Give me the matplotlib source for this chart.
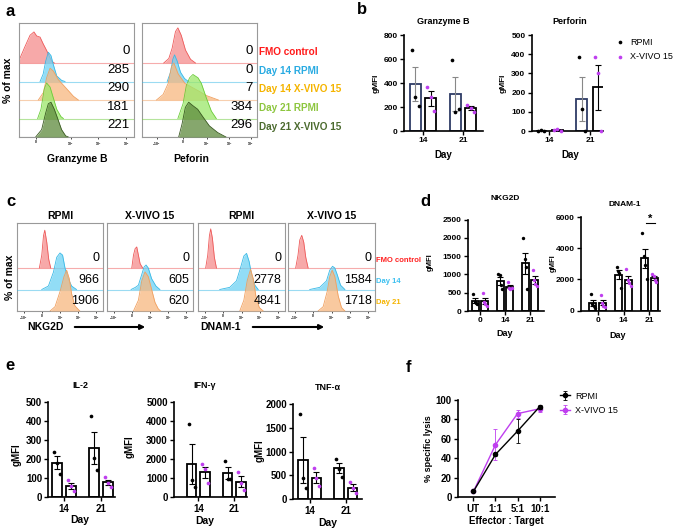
import numpy as np
import matplotlib
matplotlib.use("Agg")
import matplotlib.pyplot as plt

plt.rcParams["font.family"] = ["Liberation Sans", "DejaVu Sans"]
plt.rcParams["font.weight"] = "bold"
plt.rcParams["axes.labelweight"] = "bold"
plt.rcParams["mathtext.default"] = "regular"

W, H = 676, 530
VIOLET = "#BF3FEF"

# ---------------- a: histograms (x = channel 0-100, y = % of max) ----------------
a_names = ["FMO control", "Day 14 RPMI", "Day 14 X-VIVO 15", "Day 21 RPMI", "Day 21 X-VIVO 15"]
a_txt_col = ["#FF1A1A", "#29ABE2", "#F5B400", "#8DC63F", "#4C6B2F"]
a_fill = ["#F58C8C", "#6ED2F4", "#F7B77F", "#9BE86A", "#5E8A3C"]
a_edge = ["#EE5A5A", "#39B9E6", "#F0A060", "#6CCB3A", "#3A5A22"]

gzb_x = [[0, 5, 9.6, 13, 15.4, 18.3, 21, 24, 28.4, 30.7],
         [18.3, 21, 23.2, 25.5, 27.8, 29.9, 32.8, 37.1, 40],
         [16.8, 21.2, 24, 27, 29.9, 34.2, 38.6, 43, 47.3, 51.6],
         [16.2, 19.1, 22, 24, 27, 29.9, 32.8, 36.5, 38.6],
         [14.5, 19.7, 23.2, 25.5, 27.8, 30.7, 33.6, 37, 40.6, 42.9]]
gzb_y = [[7, 43, 75, 84, 73, 70, 52, 34, 5, 0],
         [0, 20, 55, 79, 70, 45, 15, 3, 0],
         [0, 20, 60, 86, 78, 55, 40, 25, 10, 0],
         [0, 25, 80, 96, 85, 55, 25, 5, 0],
         [0, 20, 65, 90, 94, 75, 50, 20, 3, 0]]
gzb_num = ["0", "285", "290", "181", "221"]

prf_x = [[18.9, 23.3, 26.2, 29.1, 31.2, 34.1, 37.8, 42.2, 46.5],
         [21.9, 24.8, 26.8, 28.3, 30.6, 33.5, 37, 40.4],
         [12.6, 18.4, 22.8, 25.6, 27.7, 31.5, 37.3, 43, 48.9, 56, 66.4],
         [31.2, 35.7, 38.6, 41.4, 44.3, 48.7, 51.6, 56, 60.3, 64.6],
         [31.9, 34.8, 37.7, 40.6, 44.1, 48.4, 52.8, 58.6, 65.8, 73]]
prf_y = [[0, 12, 40, 85, 95, 75, 35, 10, 0],
         [0, 25, 60, 72, 55, 25, 8, 0],
         [0, 15, 45, 90, 100, 70, 45, 35, 25, 12, 0],
         [0, 40, 90, 110, 119, 110, 95, 55, 20, 0],
         [0, 35, 80, 94, 85, 75, 55, 30, 12, 0]]
prf_num = ["0", "0", "7", "384", "296"]

# ---------------- c: histograms ----------------
c_names = ["FMO control", "Day 14", "Day 21"]
c_txt_col = ["#FF2020", "#3CC0F0", "#F5B400"]
c_fill = ["#F58C8C", "#6ED2F4", "#F7B77F"]
c_edge = ["#EE5A5A", "#39B9E6", "#F0A060"]
c_titles = ["RPMI", "X-VIVO 15", "RPMI", "X-VIVO 15"]

c_x = [
    [[26, 28.8, 30.8, 32.3, 34.6, 36.9, 39.2],
     [28.8, 36.5, 42.3, 46.2, 50, 53, 55.8, 59.6, 63.5, 69.2],
     [38.5, 44.2, 50, 54.6, 57.7, 60.8, 63.5, 67.3, 73]],
    [[28.8, 30.8, 32.7, 34.6, 36.5, 38.5, 41.5],
     [28, 33, 36.5, 40.4, 43, 45.4, 48, 51.9, 56.9, 61.5],
     [30.8, 36.5, 40.4, 44.2, 48, 51.9, 55.8, 59.6, 62.3]],
    [[8.8, 11.2, 13.1, 14.6, 16.5, 18.8, 21.2],
     [25, 36.5, 44.2, 48.8, 52.7, 55.8, 58.8, 61.5, 65.4, 69.2],
     [48, 52.7, 56.5, 60.4, 63.5, 66.5, 70.4, 75]],
    [[8.8, 11.5, 13.5, 15.8, 18.1, 20.4, 23.1],
     [25, 36.5, 44.2, 48, 51.2, 53.8, 56.5, 60.4, 65.4],
     [34.6, 40.4, 45, 48, 50.8, 53.8, 57.7, 61.5, 65.4]],
]
c_y = [
    [[0, 30, 75, 88, 60, 20, 0],
     [0, 8, 40, 75, 85, 80, 50, 25, 8, 0],
     [0, 10, 45, 80, 95, 75, 40, 12, 0]],
    [[0, 30, 45, 49, 30, 10, 0],
     [0, 5, 10, 35, 52, 57, 50, 25, 8, 0],
     [0, 25, 70, 91, 80, 50, 20, 5, 0]],
    [[0, 30, 75, 91, 70, 25, 0],
     [0, 5, 20, 50, 78, 84, 65, 35, 10, 0],
     [0, 25, 70, 97, 75, 35, 8, 0]],
    [[0, 30, 65, 76, 60, 25, 0],
     [0, 5, 20, 45, 54, 50, 35, 10, 0],
     [0, 10, 45, 80, 95, 80, 35, 8, 0]],
]
c_num = [["0", "966", "1906"], ["0", "605", "620"], ["0", "2778", "4841"], ["0", "1584", "1718"]]

# ---------------- b / d / e: per-donor gMFI ----------------
b_days = ["14", "21"]
gzb_rpmi = [[675, 285, 210], [595, 160, 180]]
gzb_xv = [[370, 280, 165], [215, 195, 160]]
prf_rpmi = [[0, 5, 0], [385, 115, 0]]
prf_xv = [[3, 8, 2], [385, 300, 0]]

d_days = ["0", "14", "21"]
nkg_rpmi = [[470, 240, 210, 200], [1010, 980, 700, 600], [2000, 1430, 1200, 590]]
nkg_xv = [[490, 240, 200, 150], [790, 640, 600, 620], [1130, 840, 750, 675]]
dnam_rpmi = [[1040, 430, 300, 190], [2810, 2550, 2420, 1470], [4990, 3480, 2940, 2030]]
dnam_xv = [[1030, 480, 300, 220], [2640, 1990, 1770, 1560], [2380, 2200, 1940, 1840]]

e_days = ["14", "21"]
il2_rpmi = [[239, 181, 120], [425, 204, 143]]
il2_xv = [[90, 59, 33], [104, 77, 52]]
ifn_rpmi = [[3830, 906, 523], [1900, 958, 941]]
ifn_xv = [[1725, 1463, 732], [1341, 732, 383]]
tnf_rpmi = [[1790, 454, 231], [839, 629, 475]]
tnf_xv = [[650, 440, 280], [370, 231, 126]]

# ---------------- f: killing ----------------
f_ratio = ["UT", "1:1", "5:1", "10:1"]
f_rpmi = [6, 44, 68, 93]
f_rpmi_err = [0.5, 2, 12, 2]
f_xv = [6, 54, 86, 91]
f_xv_err = [0.5, 16, 4, 3]

fig = plt.figure(figsize=(W / 100, H / 100), dpi=100)


def px_ax(x0, y0, x1, y1):
    return fig.add_axes([x0 / W, 1 - y1 / H, (x1 - x0) / W, (y1 - y0) / H])


def ftext(x, y, s, **kw):
    fig.text(x / W, 1 - y / H, s, **kw)


def hist_box(box, xs, ys, fills, edges, nums, top, num_dy, num_fs, ticks, tlabels):
    ax = px_ax(*box)
    n = len(xs)
    for i in range(n):
        base = n - 1 - i
        yy = base + np.asarray(ys[i]) / 100 * 2
        ax.axhline(base, color=edges[i], lw=0.8, alpha=0.5, zorder=1 + 2 * i)
        ax.fill_between(xs[i], base, yy, color=fills[i], alpha=0.75, lw=0, zorder=2 + 2 * i)
        ax.plot(xs[i], yy, color=edges[i], lw=0.6, zorder=2 + 2 * i)
        ax.text(96, base + num_dy, nums[i], ha="right", va="bottom", fontsize=num_fs,
                fontweight="normal", zorder=20)
    ax.set_xlim(0, 100)
    ax.set_ylim(0, top)
    ax.set_yticks([])
    ax.set_xticks(ticks)
    ax.set_xticklabels(tlabels)
    ax.tick_params(axis="x", length=1.5, width=0.5, labelsize=2.3, pad=1)
    for s in ax.spines.values():
        s.set_color("#999999")
        s.set_linewidth(0.8)
    return ax


def style(ax, fs):
    for s in ("top", "right"):
        ax.spines[s].set_visible(False)
    for s in ("left", "bottom"):
        ax.spines[s].set_linewidth(1.2)
    ax.tick_params(length=3, width=1, labelsize=fs, pad=1.5)


def bar_panel(box, r_pts, x_pts, ymax, ystep, xlim, labels, fs, width=0.27, off=0.19,
              r_edge="black", r_err="black", dot=7):
    ax = px_ax(*box)
    for i in range(len(labels)):
        for pts, dx, edge, errc, col in ((r_pts[i], -off, r_edge, r_err, "black"),
                                         (x_pts[i], off, "black", "black", VIOLET)):
            pts = np.asarray(pts, float)
            m = pts.mean()
            sem = pts.std(ddof=1) / np.sqrt(len(pts))
            ax.bar(i + dx, m, width, facecolor="white", edgecolor=edge, lw=1.3, zorder=2)
            ax.errorbar(i + dx, m, yerr=sem, fmt="none", ecolor=errc, elinewidth=0.8,
                        capsize=2, capthick=0.8, zorder=3)
            jit = np.linspace(-width * 0.3, width * 0.3, len(pts))
            ax.scatter(i + dx + jit, pts, s=dot, color=col, lw=0, zorder=4, clip_on=False)
    ax.set_xlim(*xlim)
    ax.set_ylim(0, ymax)
    ax.set_yticks(np.arange(0, ymax + 1, ystep))
    ax.set_xticks(range(len(labels)))
    ax.set_xticklabels(labels)
    style(ax, fs)
    return ax


# ===== panel a =====
ftext(6, 12, "a", fontsize=12, va="center")
hist_box((19, 23, 134, 137), gzb_x, gzb_y, a_fill, a_edge, gzb_num, 114 / 18.5, 0.3, 9.5,
         [14.8, 45, 69, 93], ["0", "$10^3$", "$10^4$", "$10^5$"])
hist_box((142, 23, 257, 137), prf_x, prf_y, a_fill, a_edge, prf_num, 114 / 18.5, 0.3, 9.5,
         [12.8, 35.4, 56.2, 75.9, 94.5], ["$-10^3$", "0", "$10^3$", "$10^4$", "$10^5$"])
for i, (nm, col) in enumerate(zip(a_names, a_txt_col)):
    ftext(259, 52 + i * 18.7, nm, color=col, fontsize=7.2, va="center")
ftext(8, 80, "% of max", rotation=90, fontsize=7.5, ha="center", va="center")
ftext(77, 159, "Granzyme B", fontsize=7.5, ha="center", va="center")
ftext(191, 159, "Peforin", fontsize=7.5, ha="center", va="center")

# ===== panel b =====
ftext(357, 9, "b", fontsize=12, va="center")
ax = bar_panel((404, 35, 483, 131), gzb_rpmi, gzb_xv, 800, 200, (-0.475, 1.5), b_days, 6,
               r_edge="#2E3B66", r_err="#888888")
ftext(443, 22, "Granzyme B", fontsize=6.5, ha="center", va="center")
ftext(376, 83, "gMFI", fontsize=6, rotation=90, ha="center", va="center")
ftext(443, 155, "Day", fontsize=7, ha="center", va="center")
ax = bar_panel((531.7, 35, 603, 131), prf_rpmi, prf_xv, 500, 100, (-0.43, 1.32), b_days, 6,
               off=0.2, r_edge="#2E3B66", r_err="#888888")
ftext(570, 22, "Perforin", fontsize=6.5, ha="center", va="center")
ftext(503, 83, "gMFI", fontsize=6, rotation=90, ha="center", va="center")
ftext(570, 155, "Day", fontsize=7, ha="center", va="center")
h1 = ax.scatter([], [], s=7, color="black", lw=0)
h2 = ax.scatter([], [], s=7, color=VIOLET, lw=0)
ax.legend([h1, h2], ["RPMI", "X-VIVO 15"], loc="upper left", frameon=False,
          bbox_to_anchor=(611 / W, 1 - 33 / H), bbox_transform=fig.transFigure,
          prop={"size": 6.5, "weight": "normal"}, handletextpad=0.6, labelspacing=0.6,
          borderpad=0, handlelength=1)

# ===== panel c =====
ftext(6, 201, "c", fontsize=12, va="center")
c_boxes = [(17, 223, 103, 311), (107, 223, 193, 311), (198, 223, 285, 311), (288, 223, 375, 311)]
for k, bx in enumerate(c_boxes):
    hist_box(bx, c_x[k], c_y[k], c_fill, c_edge, c_num[k], 88 / 21.5, 0.17, 9,
             [7.7, 28.8, 50, 71, 92], ["$-10^3$", "0", "$10^3$", "$10^4$", "$10^5$"])
    ftext((bx[0] + bx[2]) / 2, 216, c_titles[k], fontsize=7.5, ha="center", va="center")
for i, (nm, col) in enumerate(zip(c_names, c_txt_col)):
    ftext(376, 260 + i * 21.5, nm, color=col, fontsize=5.5, va="center")
ftext(10, 277, "% of max", rotation=90, fontsize=7.5, ha="center", va="center")
ftext(27, 327, "NKG2D", fontsize=7.5, va="center")
ftext(200, 327, "DNAM-1", fontsize=7.5, va="center")
for x0, x1 in ((72, 148), (250, 327)):
    fig.add_artist(matplotlib.patches.FancyArrowPatch(
        (x0 / W, 1 - 327 / H), (x1 / W, 1 - 327 / H), transform=fig.transFigure,
        arrowstyle="-|>", mutation_scale=7, lw=1.5, color="black"))

# ===== panel d =====
ftext(420, 202, "d", fontsize=12, va="center")
bar_panel((468, 219.5, 544, 311), nkg_rpmi, nkg_xv, 2500, 500, (-0.48, 2.56), d_days, 6, dot=6)
ftext(505, 199, "NKG2D", fontsize=6, ha="center", va="center")
ftext(430, 262, "gMFI", fontsize=5.5, rotation=90, ha="center", va="center")
ftext(505, 334, "Day", fontsize=6.5, ha="center", va="center")
ax = bar_panel((580.7, 217.3, 660, 310.5), dnam_rpmi, dnam_xv, 6000, 2000, (-0.66, 2.41),
               d_days, 6, dot=6)
ftext(625, 204, "DNAM-1", fontsize=6, ha="center", va="center")
ftext(553, 263, "gMFI", fontsize=5.5, rotation=90, ha="center", va="center")
ftext(618, 335, "Day", fontsize=6.5, ha="center", va="center")
ax.plot([1.85, 2.22], [5650, 5650], color="black", lw=0.8, clip_on=False)
ax.text(2.03, 5900, "*", ha="center", va="center", fontsize=8)

# ===== panel e =====
ftext(5, 366, "e", fontsize=12, va="center")
bar_panel((48.3, 401.7, 115, 497.3), il2_rpmi, il2_xv, 500, 100, (-0.42, 1.38), e_days, 7)
ftext(80, 385, "IL-2", fontsize=6.5, ha="center", va="center")
ftext(17, 455, "gMFI", fontsize=7, rotation=90, ha="center", va="center")
ftext(80, 520, "Day", fontsize=7.5, ha="center", va="center")
bar_panel((174, 401.7, 247, 497.3), ifn_rpmi, ifn_xv, 5000, 1000, (-0.68, 1.35), e_days, 7)
ftext(205, 385, "IFN-γ", fontsize=6.5, ha="center", va="center")
ftext(130, 447, "gMFI", fontsize=7, rotation=90, ha="center", va="center")
ftext(205, 521, "Day", fontsize=7.5, ha="center", va="center")
bar_panel((293.3, 404, 362, 499.3), tnf_rpmi, tnf_xv, 2000, 500, (-0.45, 1.45), e_days, 7)
ftext(328, 387, "TNF-α", fontsize=6.5, ha="center", va="center")
ftext(260, 451, "gMFI", fontsize=7, rotation=90, ha="center", va="center")
ftext(328, 523, "Day", fontsize=7.5, ha="center", va="center")

# ===== panel f =====
ftext(406, 367, "f", fontsize=12, va="center")
ax = px_ax(458, 400, 555, 497.3)
xs = np.arange(len(f_ratio))
ax.errorbar(xs, f_rpmi, yerr=f_rpmi_err, color="black", marker="o", ms=3, lw=1,
            elinewidth=0.6, capsize=1.5, capthick=0.6, label="RPMI", zorder=3)
ax.errorbar(xs, f_xv, yerr=f_xv_err, color=VIOLET, marker="o", ms=3, lw=1,
            elinewidth=0.6, capsize=1.5, capthick=0.6, label="X-VIVO 15", zorder=2)
ax.set_xlim(-0.7, 3.7)
ax.set_ylim(0, 100)
ax.set_yticks(range(0, 101, 20))
ax.set_xticks(xs)
ax.set_xticklabels(f_ratio)
style(ax, 7)
ax.set_ylabel("% specific lysis", fontsize=6.5, labelpad=2)
ax.set_xlabel("Effector : Target", fontsize=7, labelpad=2)
ax.legend(loc="upper left", frameon=False, bbox_to_anchor=(555 / W, 1 - 387 / H),
          bbox_transform=fig.transFigure, prop={"size": 6.5, "weight": "normal"},
          handlelength=1.2, handletextpad=0.5, labelspacing=0.6, borderpad=0)

fig.savefig("out.png", dpi=100)
